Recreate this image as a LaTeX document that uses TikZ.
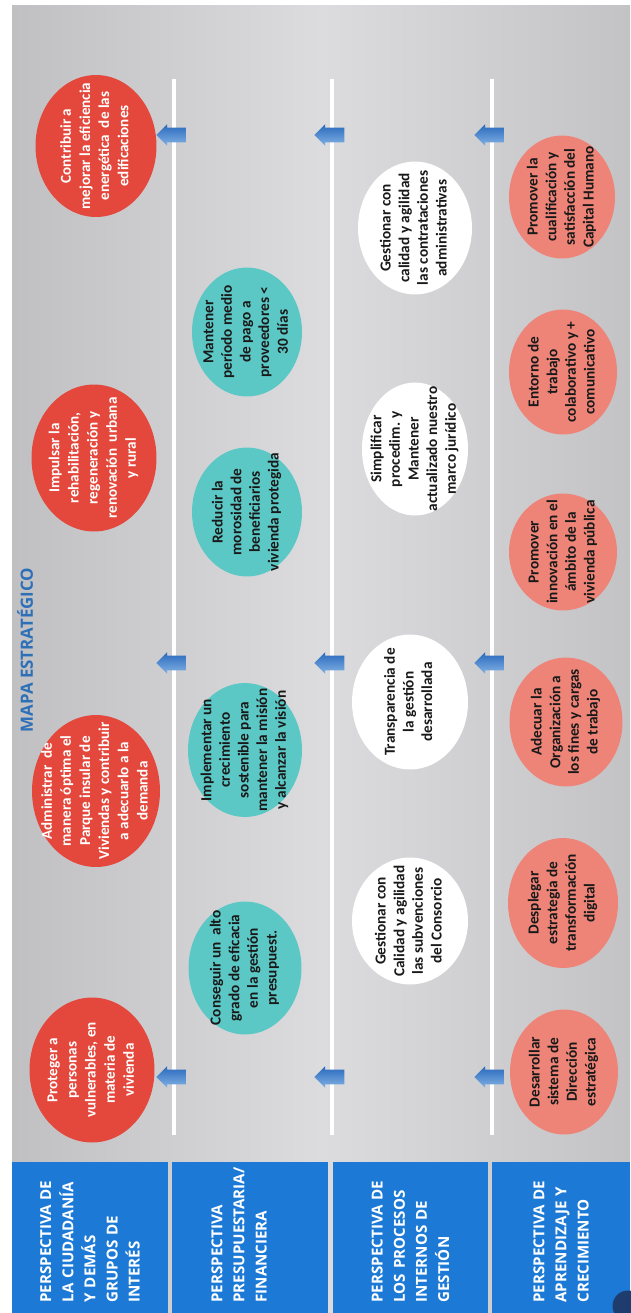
\documentclass[tikz,border=0pt]{standalone}
\usepackage{fontspec}
\usepackage{xcolor}
\usepackage{tikz}
\setmainfont{Carlito}
\newfontfamily\headfont{Open Sans}
\definecolor{perspBlue}{RGB}{28, 122, 214}
\definecolor{titleBlue}{RGB}{46, 112, 184}
\definecolor{goalRed}{RGB}{228, 72, 60}
\definecolor{goalTeal}{RGB}{92, 200, 197}
\definecolor{goalSalmon}{RGB}{238, 132, 120}
\definecolor{arrowDark}{RGB}{40, 104, 188}
\definecolor{arrowLight}{RGB}{130, 178, 228}
\definecolor{bgDark}{RGB}{192, 192, 194}
\definecolor{bgLight}{RGB}{220, 220, 223}
\definecolor{iconNavy}{RGB}{30, 60, 110}
\usetikzlibrary{shapes.geometric, shapes.arrows, positioning}

\newcommand{\goaltext}[1]{\smash{\makebox[0pt]{\raisebox{-0.25em}{\begin{tabular}{@{}c@{}}#1\end{tabular}}}}}

\begin{document}
\begin{tikzpicture}[
    x=0.02cm, y=-0.02cm,
    goal/.style={ellipse, rotate=90, inner sep=0pt, text=black!90, font=\fontsize{8.7}{10.6}\selectfont\bfseries},
    redgoal/.style={goal, fill=goalRed, text=white, font=\fontsize{8.6}{10.9}\selectfont\bfseries},
    tealgoal/.style={goal, fill=goalTeal},
    whitegoal/.style={goal, fill=white},
    salmongoal/.style={goal, fill=goalSalmon},
    persp/.style={rectangle, rotate=90, fill=perspBlue, text=white, align=left, text width=2.6cm, inner xsep=0.21cm, minimum width=3.02cm, font=\headfont\bfseries\fontsize{8.6}{12.6}\selectfont},
    axis/.style={white, line width=2pt},
    uparrow/.style={single arrow, shape border rotate=180, inner xsep=0pt, inner ysep=0.14cm, minimum height=0.6cm, single arrow head extend=0.07cm, single arrow head indent=0pt, top color=arrowDark, bottom color=arrowLight}
]
    \useasboundingbox[fill=white] (0,0) rectangle (630,1313);
    \shade[left color=bgDark, right color=bgDark!95!white, middle color=bgLight] (12,5) rectangle (630,1313);

    \node[rotate=90, text=titleBlue, font=\headfont\bfseries\fontsize{9.6}{11}\selectfont] (title) at (25,650) {MAPA ESTRATÉGICO};

    % dividers with their arrows
    \foreach \x in {174,332,492} {
        \draw[axis] (\x,79) -- (\x,1135);
        \foreach \y in {135,663,1077}
            \node[uparrow] (arr-\x-\y) at (\x+1,\y) {};
    }

    % perspectiva ciudadania
    \node[redgoal, minimum width=2.84cm, minimum height=2.42cm] (cont) at (96,146) {\goaltext{Contribuir a\\mejorar la eficiencia\\energética \ de las\\edificaciones}};
    \node[redgoal, minimum width=2.94cm, minimum height=2.50cm] (impu) at (94,458) {\goaltext{Impulsar la\\rehabilitación,\\regeneración y\\renovación \ urbana\\y rural}};
    \node[redgoal, minimum width=3.04cm, minimum height=2.56cm] (admi) at (96,791) {\goaltext{Administrar \ de\\manera óptima el\\Parque insular de\\Viviendas y contribuir\\a adecuarlo a la\\demanda}};
    \node[redgoal, minimum width=2.90cm, minimum height=2.50cm] (prot) at (92,1070) {\goaltext{Proteger a\\personas\\vulnerables, en\\materia de\\vivienda}};

    % perspectiva presupuestaria
    \node[tealgoal, minimum width=2.58cm, minimum height=2.20cm] (mant) at (247,332) {\goaltext{Mantener\\período medio\\de pago a\\proveedores <\\30 días}};
    \node[tealgoal, minimum width=2.58cm, minimum height=2.20cm] (redu) at (247,512) {\goaltext{Reducir la\\morosidad de\\beneficiarios\\vivienda protegida}};
    \node[tealgoal, minimum width=2.68cm, minimum height=2.28cm] (impl) at (245,750) {\goaltext{Implementar un\\crecimiento\\sostenible para\\mantener la misión\\y alcanzar la visión}};
    \node[tealgoal, minimum width=2.66cm, minimum height=2.26cm] (cons) at (245,968) {\goaltext{Conseguir un \ alto\\grado de eficacia\\en la gestión\\presupuest.}};

    % procesos internos
    \node[whitegoal, minimum width=2.66cm, minimum height=2.28cm] (gcon) at (415,228) {\goaltext{Gestionar con\\calidad y agilidad\\las contrataciones\\administrativas}};
    \node[whitegoal, minimum width=2.66cm, minimum height=2.12cm] (simp) at (415,449) {\goaltext{Simplificar\\procedim. y\\Mantener\\actualizado nuestro\\marco jurídico}};
    \node[whitegoal, minimum width=2.70cm, minimum height=2.32cm] (tran) at (410,702) {\goaltext{Transparencia de\\la gestión\\desarrollada}};
    \node[whitegoal, minimum width=2.54cm, minimum height=2.32cm] (gsub) at (410,921) {\goaltext{Gestionar con\\Calidad y agilidad\\las subvenciones\\del Consorcio}};

    % aprendizaje y crecimiento
    \node[salmongoal, minimum width=2.46cm, minimum height=2.12cm] (cual) at (562,197) {\goaltext{Promover la\\cualificación y\\satisfacción del\\Capital Humano}};
    \node[salmongoal, minimum width=2.50cm, minimum height=2.16cm] (ento) at (563,372) {\goaltext{Entorno de\\trabajo\\colaborativo y +\\comunicativo}};
    \node[salmongoal, minimum width=2.34cm, minimum height=2.16cm] (inno) at (563,552) {\goaltext{Promover\\innovación en el\\ámbito de la\\vivienda pública}};
    \node[salmongoal, minimum width=2.58cm, minimum height=2.26cm] (adec) at (566,722) {\goaltext{Adecuar la\\Organización a\\los fines y cargas\\de trabajo}};
    \node[salmongoal, minimum width=2.60cm, minimum height=2.20cm] (desp) at (563,903) {\goaltext{Desplegar\\estrategia de\\transformación\\digital}};
    \node[salmongoal, minimum width=2.50cm, minimum height=2.16cm] (desa) at (564,1072) {\goaltext{Desarrollar\\sistema de\\Dirección\\estratégica}};

    % perspectivas
    \node[persp, minimum height=3.12cm] (pciu) at (90,1237.5) {PERSPECTIVA DE\\LA CIUDADANÍA\\Y DEMÁS\\GRUPOS DE\\INTERÉS};
    \node[persp, minimum height=3.12cm] (ppre) at (250,1237.5) {PERSPECTIVA\\PRESUPUESTARIA/\\FINANCIERA\\\mbox{}};
    \node[persp, minimum height=3.10cm] (ppro) at (410.5,1237.5) {PERSPECTIVA DE\\LOS PROCESOS\\INTERNOS DE\\GESTIÓN};
    \node[persp, minimum height=2.76cm] (papr) at (561,1237.5) {PERSPECTIVA DE\\APRENDIZAJE Y\\CRECIMIENTO};

    \node[circle, fill=iconNavy, minimum size=0.62cm, inner sep=0pt] (back) at (628,1306) {};
\end{tikzpicture}
\end{document}
